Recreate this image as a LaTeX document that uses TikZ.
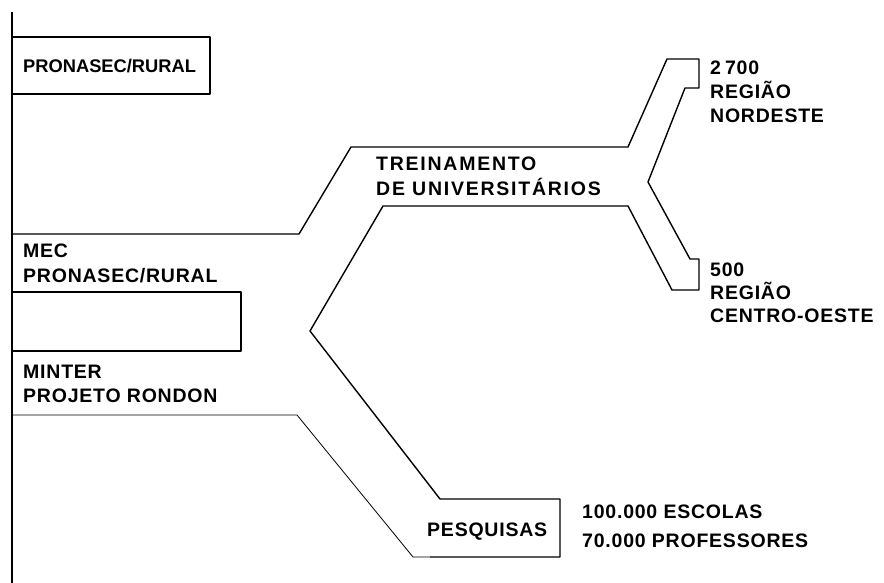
\documentclass[tikz,border=0pt]{standalone}
\usepackage{fontspec}
\setmainfont{Liberation Sans}[LetterSpace=4]
\newfontfamily\tightfont{Liberation Sans}
\newfontfamily\widefont{Liberation Sans}[LetterSpace=9]
\begin{document}
\begin{tikzpicture}[x=1pt,y=-1pt,
  outline/.style={line width=1.4pt,line join=round},
  faint/.style={line width=0.8pt,line join=round},
  lbl/.style={anchor=base west,inner sep=0pt,font=\bfseries\fontsize{19.5}{24}\selectfont},
  wlbl/.style={anchor=base west,inner sep=0pt,font=\widefont\bfseries\fontsize{19.5}{24}\selectfont},
  tlbl/.style={anchor=base west,inner sep=0pt,font=\tightfont\bfseries\fontsize{18.3}{24}\selectfont}]
\path[use as bounding box] (0,0) rectangle (884,583);
% left spine
\coordinate (spinetop) at (12,12);
\coordinate (spinebot) at (12,583);
\draw[outline] (spinetop) -- (spinebot);
% top box
\draw[outline] (12,37) -- (210,37) -- (210,94) -- (12,94);
\node[tlbl] (pron1) at (23,73) {PRONASEC/RURAL};
% middle box
\draw[outline] (12,292) -- (241,292) -- (241,351) -- (12,351);
% main branched outline
\draw[outline] (12,234) -- (299,234) -- (351,147) -- (628,147) -- (667,59) -- (699,59)
  -- (699,88) -- (685,88) -- (648,182) -- (690,259) -- (699,259) -- (699,290)
  -- (672,290) -- (628,206) -- (383,206) -- (310,331) -- (440,499) -- (560,499)
  -- (560,557) -- (430,557);
\draw[faint] (430,557) -- (413,557) -- (297,415) -- (12,415);
% labels
\node[lbl] (mec1) at (23,257) {MEC};
\node[lbl] (mec2) at (23,282) {PRONASEC/RURAL};
\node[lbl] (min1) at (23,378) {MINTER};
\node[lbl] (min2) at (23,402) {PROJETO RONDON};
\node[wlbl] (tre1) at (376,171) {TREINAMENTO};
\node[wlbl] (tre2) at (376,196) {DE UNIVERSITÁRIOS};
\node[lbl] (ne1) at (710,75) {2\hspace{4pt}700};
\node[lbl] (ne2) at (710,99) {REGIÃO};
\node[lbl] (ne3) at (710,123) {NORDESTE};
\node[lbl] (co1) at (710,276) {500};
\node[lbl] (co2) at (710,299) {REGIÃO};
\node[lbl] (co3) at (710,322) {CENTRO-OESTE};
\node[lbl] (pes) at (427,536) {PESQUISAS};
\node[lbl] (esc) at (582,518) {100.000 ESCOLAS};
\node[lbl] (prof) at (582,547) {70.000 PROFESSORES};
\end{tikzpicture}
\end{document}
